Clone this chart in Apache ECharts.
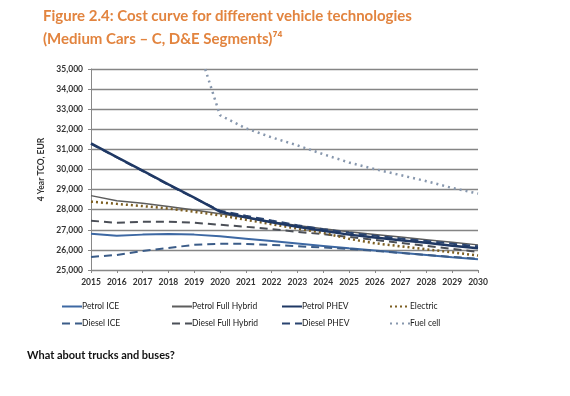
<!DOCTYPE html>
<html>
<head>
<meta charset="utf-8">
<script src="https://cdn.jsdelivr.net/npm/echarts@6/dist/echarts.min.js"></script>
<style>
  html, body { margin: 0; padding: 0; background: #fff; }
  #main { width: 570px; height: 396px; }
</style>
</head>
<body>
<div id="main"></div>
<script>
// years on the x axis
var years = ['2015', '2016', '2017', '2018', '2019', '2020', '2021', '2022', '2023', '2024', '2025', '2026', '2027', '2028', '2029', '2030'];

// 4 year TCO in EUR
var petrolIce    = [26800, 26700, 26760, 26790, 26760, 26680, 26560, 26440, 26320, 26200, 26080, 25970, 25860, 25750, 25640, 25540];
var dieselIce    = [25650, 25750, 25950, 26100, 26250, 26300, 26300, 26250, 26180, 26120, 26050, 25950, 25850, 25750, 25650, 25560];
var petrolHybrid = [28700, 28450, 28320, 28160, 27980, 27800, 27600, 27400, 27220, 27050, 26900, 26770, 26640, 26510, 26380, 26250];
var dieselHybrid = [27450, 27350, 27400, 27400, 27350, 27250, 27150, 27030, 26900, 26780, 26650, 26500, 26350, 26200, 26050, 25900];
var petrolPhev   = [31300, 30620, 29940, 29260, 28600, 27900, 27620, 27380, 27150, 26950, 26760, 26620, 26480, 26350, 26210, 26080];
var dieselPhev   = [31280, 30600, 29920, 29240, 28580, 27950, 27700, 27460, 27230, 27030, 26850, 26710, 26570, 26440, 26310, 26180];
var electric     = [28400, 28290, 28180, 28060, 27900, 27720, 27500, 27280, 27060, 26850, 26550, 26330, 26180, 26030, 25880, 25720];
var fuelCell     = [null, null, null, null, 36700, 32700, 32050, 31600, 31200, 30760, 30350, 30020, 29720, 29420, 29080, 28800];

var yMin = 25000, yMax = 35000, yStep = 1000;

var font = 'Lato, "DejaVu Sans", sans-serif';

function fmt(v) {
  return String(v).replace(/\B(?=(\d{3})+(?!\d))/g, ',');
}

function line(name, data, color, width, type) {
  return {
    name: name,
    type: 'line',
    data: data,
    symbol: 'none',
    clip: true,
    lineStyle: { color: color, width: width, type: type },
    itemStyle: { color: color }
  };
}

var myChart = echarts.init(document.getElementById('main'));

// legend: lines only, no marker
var legendBase = {
  orient: 'vertical',
  top: 297,
  itemWidth: 20,
  itemHeight: 8,
  itemGap: 8,
  itemStyle: { opacity: 0 },
  textStyle: { fontFamily: font, fontSize: 8.5, color: '#222', padding: [0, 0, 0, -5] }
};

option = {
  backgroundColor: '#fff',
  animation: false,
  title: [{
    text: 'Figure 2.4: Cost curve for different vehicle technologies\n(Medium Cars \u2013 C, D&E Segments)\u2077\u2074',
    left: 38,
    top: 0,
    textStyle: {
      fontFamily: font,
      fontSize: 15,
      fontWeight: 'bold',
      color: '#e2843f',
      lineHeight: 23
    }
  }],
  legend: [
    Object.assign({}, legendBase, { left: 56, data: ['Petrol ICE', 'Diesel ICE'] }),
    Object.assign({}, legendBase, { left: 166, data: ['Petrol Full Hybrid', 'Diesel Full Hybrid'] }),
    Object.assign({}, legendBase, { left: 276, data: ['Petrol PHEV', 'Diesel PHEV'] }),
    Object.assign({}, legendBase, { left: 384, data: ['Electric', 'Fuel cell'] })
  ],
  grid: {
    left: 91,
    right: 92,
    top: 69,
    bottom: 126
  },
  xAxis: {
    type: 'category',
    data: years,
    boundaryGap: false,
    axisLine: { lineStyle: { color: '#888', width: 1 } },
    axisTick: { show: true, length: 3, lineStyle: { color: '#888' } },
    axisLabel: { fontFamily: font, fontSize: 8.5, fontWeight: 'bold', color: '#333', margin: 8 },
    splitLine: { show: false }
  },
  yAxis: {
    type: 'value',
    min: yMin,
    max: yMax,
    interval: yStep,
    name: '4 Year TCO, EUR',
    nameLocation: 'middle',
    nameGap: 37,
    nameRotate: 90,
    nameTextStyle: { fontFamily: font, fontSize: 8.5, fontWeight: 'bold', color: '#333' },
    axisLine: { show: true, lineStyle: { color: '#888', width: 1 } },
    axisTick: { show: true, length: 3, lineStyle: { color: '#888' } },
    axisLabel: {
      fontFamily: font, fontSize: 8.5, fontWeight: 'bold', color: '#333', margin: 8,
      formatter: function (v) { return fmt(v); }
    },
    splitLine: { lineStyle: { color: '#858585', width: 1.4 } }
  },
  graphic: [{
    type: 'text',
    left: 27,
    top: 350,
    style: {
      text: 'What about trucks and buses?',
      fontFamily: font,
      fontSize: 11,
      fontWeight: 'bold',
      fill: '#111'
    }
  }],
  series: [
    line('Petrol ICE', petrolIce, '#3d68a3', 2, 'solid'),
    line('Diesel ICE', dieselIce, '#3b5c88', 2, [8, 5]),
    line('Diesel Full Hybrid', dieselHybrid, '#4b4f57', 2, [8, 5]),
    line('Petrol Full Hybrid', petrolHybrid, '#5d5d5d', 1.5, 'solid'),
    line('Electric', electric, '#7d5f22', 2.5, [2, 3]),
    line('Diesel PHEV', dieselPhev, '#2a4470', 2, [8, 5]),
    line('Petrol PHEV', petrolPhev, '#1f3864', 2.5, 'solid'),
    line('Fuel cell', fuelCell, '#8797ad', 2.5, [2, 4])
  ]
};

myChart.setOption(option);
</script>
</body>
</html>
